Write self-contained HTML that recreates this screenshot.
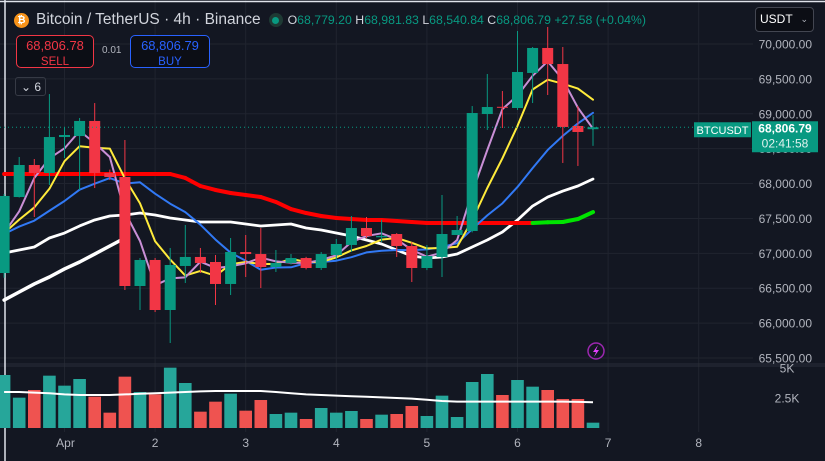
<!DOCTYPE html>
<html><head><meta charset="utf-8"><style>
html,body{margin:0;padding:0;background:#131722;}
body{width:825px;height:461px;overflow:hidden;position:relative;font-family:"Liberation Sans",sans-serif;}
svg{position:absolute;left:0;top:0;}
.t{font-family:"Liberation Sans",sans-serif;}
</style></head><body>
<svg id="chart" width="825" height="461" viewBox="0 0 825 461">
<rect x="0" y="0" width="825" height="461" fill="#131722"/>
<g id="grid"></g>
<g id="vol"></g>
<g id="lines"></g>
<g id="candles"></g>
<g id="axis"></g>
<g id="taxis"></g>
</svg>

<div style="position:absolute;left:14px;top:10px;height:20px;display:flex;align-items:center;font-size:15.5px;color:#d1d4dc;white-space:nowrap;">
  <span style="width:15px;height:15px;border-radius:50%;background:#f7931a;color:#fff;font-size:10px;font-weight:bold;display:inline-flex;align-items:center;justify-content:center;margin-right:7px;">₿</span>
  <span>Bitcoin / TetherUS · 4h · Binance</span>
  <span style="width:14px;height:14px;border-radius:50%;background:#1e3a34;display:inline-flex;align-items:center;justify-content:center;margin:0 5px 0 8px;"><span style="width:7px;height:7px;border-radius:50%;background:#089981;"></span></span>
  <span style="font-size:12.3px;">O<span style="color:#089981">68,779.20</span> H<span style="color:#089981">68,981.83</span> L<span style="color:#089981">68,540.84</span> C<span style="color:#089981">68,806.79</span> <span style="color:#089981">+27.58 (+0.04%)</span></span>
</div>
<div style="position:absolute;left:16px;top:35px;width:78px;height:33px;border:1px solid #f23645;border-radius:5px;background:#0c0e15;text-align:center;color:#f23645;font-size:13px;line-height:15px;padding-top:2px;box-sizing:border-box;">68,806.78<br><span style="font-size:11.5px;">SELL</span></div>
<div style="position:absolute;left:102px;top:45px;color:#b2b5be;font-size:10px;">0.01</div>
<div style="position:absolute;left:130px;top:35px;width:80px;height:33px;border:1px solid #2962ff;border-radius:5px;background:#0c0e15;text-align:center;color:#2962ff;font-size:13px;line-height:15px;padding-top:2px;box-sizing:border-box;">68,806.79<br><span style="font-size:11.5px;">BUY</span></div>
<div style="position:absolute;left:15px;top:77px;width:31px;height:19px;border:1px solid #363a45;border-radius:3px;color:#d1d4dc;font-size:12px;line-height:19px;box-sizing:border-box;padding-left:5px;">⌄ 6</div>
<div style="position:absolute;left:755px;top:7px;width:59px;height:25px;border:1px solid #434651;border-radius:4px;background:#0c0e15;color:#fff;font-size:12px;line-height:23px;box-sizing:border-box;padding-left:4px;">USDT<span style="position:absolute;right:5px;font-size:9px;color:#b2b5be;">⌄</span></div>

<script>
// ---- data ----
const opens  = [66718,67807,68266,68151,68667,68681,68897,68151,68094,66532,66905,66188,66819,66948,66876,66561,67019,66990,66804,66862,66933,66790,66976,67120,67363,67230,67277,67105,66790,66948,67263,67320,68997,69100,69083,69585,69943,69713,68825,68779];
const highs  = [67850,68381,68352,69283,68811,68940,69154,68200,68624,66933,66933,67077,67406,67077,66976,67220,67263,67363,67048,66990,66950,67019,67206,67535,67520,67480,67290,67162,67120,67836,67535,69111,69570,69326,70186,69957,70244,69957,69111,68981];
const lows   = [66650,67800,67521,67979,68366,67908,67936,68050,66475,66188,66159,65715,66575,66718,66260,66403,66661,66503,66733,66840,66770,66761,66905,67019,67220,67160,66948,66589,66760,66661,67263,67300,68768,68796,69054,69154,69269,68295,68252,68540];
const closes = [67822,68266,68151,68667,68696,68897,68151,68094,66532,66905,66188,66833,66948,66862,66561,67019,66990,66804,66862,66933,66790,66990,67134,67363,67248,67250,67105,66790,66962,67277,67334,69011,69097,69090,69599,69943,69713,68811,68739,68807];
const prevCloses = [67200,67300,67250,67300,67270,67300,67277,67333,66718];
const volumes = [4417,2528,3167,4361,3528,4083,2611,1278,4278,3000,2806,5028,3750,1361,2194,2861,1444,2333,1167,1278,750,1667,1278,1417,750,1111,1167,1833,1000,2694,917,3833,4500,2750,4000,3444,3167,2417,2417,444];
const volMA = [3000,3000,2950,2900,2800,2750,2750,2750,2800,2850,2900,2950,3000,3050,3083,3083,3083,3083,3000,2900,2800,2750,2700,2650,2600,2550,2500,2450,2350,2250,2200,2200,2200,2200,2200,2200,2200,2200,2180,2150];
const sma20 = [67005,67048,67091,67220,67291,67392,67478,67535,67549,67578,67549,67506,67478,67449,67449,67449,67420,67392,67406,67420,67363,67334,67291,67248,67191,67134,67048,66962,66933,66948,66990,67091,67191,67306,67478,67678,67807,67893,67965,68065];
const sma50 = [66331,66446,66561,66661,66776,66876,66990,67105,67220];
const sma200 = [68137,68137,68137,68137,68137,68137,68137,68137,68137,68137,68137,68137,68080,67965,67908,67865,67836,67807,67736,67635,67578,67535,67506,67492,67478,67478,67463,67449,67435,67435,67435,67435,67435,67435,67435,67435,67445,67449,67492,67592];
const priceTicks = [70000,69500,69000,68500,68000,67500,67000,66500,66000,65500];
const priceTickLabels = ["70,000.00","69,500.00","69,000.00","68,500.00","68,000.00","67,500.00","67,000.00","66,500.00","66,000.00","65,500.00"];
const dayIdx = [4,10,16,22,28,34,40,46];
const dayLabels = ["Apr","2","3","4","5","6","7","8"];
const volTicks = [5000,2500];
const volTickLabels = ["5K","2.5K"];
const lastPrice = 68806.79;

// ---- scales ----
const NS="http://www.w3.org/2000/svg";
const X0=4.1, STEP=15.1;
const xAt = i => X0 + STEP*i;
const yP = p => 44 + (70000-p)*0.06978;
const yV = v => 428 - v*0.012;
function mk(tag, attrs, parent){const e=document.createElementNS(NS,tag);for(const k in attrs)e.setAttribute(k,attrs[k]);parent.appendChild(e);return e;}
const G=id=>document.getElementById(id);
const UP="#089981", DN="#f23645";

// grid
priceTicks.forEach(p=>{const l=mk('line',{x1:0,x2:753,y1:yP(p),y2:yP(p),stroke:'#20242f','stroke-width':1},G('grid'));

});
dayIdx.forEach(i=>{const l=mk('line',{x1:xAt(i),x2:xAt(i),y1:0,y2:432,stroke:'#20242f','stroke-width':1},G('grid'));

});
[364,366].forEach(y=>{const l=mk('line',{x1:0,x2:825,y1:y,y2:y,stroke:'#2a2e39','stroke-width':1},G('grid'));

});
const lb=mk('line',{x1:5,x2:5,y1:0,y2:461,stroke:'#e0e3eb','stroke-width':1.5},G('grid'));


const tb=mk('line',{x1:0,x2:825,y1:1.5,y2:1.5,stroke:'#e0e3eb','stroke-width':1.5},G('grid'));



// volume
volumes.forEach((v,i)=>{const r=mk('rect',{x:xAt(i)-6.3,y:yV(v),width:12.6,height:428-yV(v),fill:closes[i]>=opens[i]?'#26a69a':'#ef5350'},G('vol'));

});
const vm=mk('path',{d:volMA.map((v,i)=>(i?'L':'M')+xAt(i)+','+yV(v)).join(''),stroke:'#ffffff',fill:'none','stroke-width':2},G('vol'));



// moving averages
function sma(n){const all=prevCloses.concat(closes);return closes.map((c,i)=>{const j=i+prevCloses.length;let s=0;for(let k=j-n+1;k<=j;k++)s+=all[k];return s/n;});}
function line(vals,color,w,name,start){const p=mk('path',{d:vals.map((v,i)=>(i?'L':'M')+xAt(i+(start||0))+','+yP(v)).join(''),stroke:color,fill:'none','stroke-width':w,'stroke-linejoin':'round','stroke-linecap':'round'},G('lines'));

}
line(sma50,'#ffffff',3.5,'sma50-line');
line(sma20,'#ffffff',2.8,'sma20-line');
let green=false;
for(let i=1;i<sma200.length;i++){
  if(sma200[i]>sma200[i-1])green=true; else if(sma200[i]<sma200[i-1])green=false;
  const s=mk('line',{x1:xAt(i-1),y1:yP(sma200[i-1]),x2:xAt(i),y2:yP(sma200[i]),stroke:green?'#00e400':'#ff0000','stroke-width':4,'stroke-linecap':'round'},G('lines'));
  
  
}
line(sma(10),'#3179f5',2,'sma10-line');
line(sma(5),'#ffeb3b',2,'sma5-line');
line(sma(3),'#c98fd6',2,'sma3-line');

// candles
closes.forEach((c,i)=>{
  const o=opens[i],col=c>=o?UP:DN,x=xAt(i);
  const w=mk('line',{x1:x,x2:x,y1:yP(highs[i]),y2:yP(lows[i]),stroke:col,'stroke-width':1},G('candles'));
  
  
  const top=yP(Math.max(o,c)),bot=yP(Math.min(o,c));
  const b=mk('rect',{x:x-5.5,y:top,width:11,height:Math.max(1,bot-top),fill:col},G('candles'));
  
  
});

// last price line
const lp=mk('line',{x1:0,x2:753,y1:yP(lastPrice),y2:yP(lastPrice),stroke:'#089981','stroke-width':1,'stroke-dasharray':'1,3'},G('axis'));



// price axis labels
priceTicks.forEach((p,i)=>{const t=mk('text',{x:812,y:yP(p)+4.5,'text-anchor':'end',fill:'#b2b5be','font-size':12,class:'t'},G('axis'));t.textContent=priceTickLabels[i];

});
volTicks.forEach((v,i)=>{const t=mk('text',{x:787,y:yV(v)+4.5,'text-anchor':'middle',fill:'#b2b5be','font-size':12,class:'t'},G('axis'));t.textContent=volTickLabels[i];

});
const yl=yP(lastPrice);
const bx=mk('rect',{x:752,y:yl-6,width:66,height:31,fill:'#089981'},G('axis'));


const t1=mk('text',{x:785,y:yl+5,'text-anchor':'middle',fill:'#fff','font-size':12,'font-weight':'bold',class:'t'},G('axis'));t1.textContent='68,806.79';


const t2=mk('text',{x:785,y:yl+20,'text-anchor':'middle',fill:'#e0f2ef','font-size':12,class:'t'},G('axis'));t2.textContent='02:41:58';


const sb=mk('rect',{x:694,y:yl-5,width:57,height:15,fill:'#089981'},G('axis'));


const st=mk('text',{x:722.5,y:yl+6.5,'text-anchor':'middle',fill:'#fff','font-size':11,class:'t'},G('axis'));st.textContent='BTCUSDT';



// time axis
dayIdx.forEach((d,i)=>{const t=mk('text',{x:xAt(d)+(i===0?1:0),y:447,'text-anchor':'middle',fill:'#b2b5be','font-size':12,class:'t'},G('taxis'));t.textContent=dayLabels[i];

});

// lightning icon
const ic=mk('circle',{cx:596,cy:351,r:8,fill:'none',stroke:'#9c27b0','stroke-width':1.5},G('axis'));


const bolt=mk('path',{d:'M598,345 L593,352 L596,352 L594,357 L599,350 L596,350 Z',fill:'#e040fb'},G('axis'));


</script>
</body></html>
